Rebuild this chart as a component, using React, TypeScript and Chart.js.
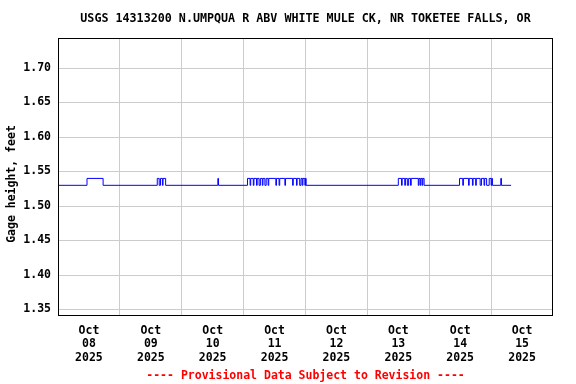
import { useEffect, useRef } from "react";
import { Chart, registerables } from "chart.js";

Chart.register(...registerables);

const TITLE = "USGS 14313200 N.UMPQUA R ABV WHITE MULE CK, NR TOKETEE FALLS, OR";
const Y_LABEL = "Gage height, feet";
const FOOTER = "---- Provisional Data Subject to Revision ----";

// Day labels, centered on each day (noon)
const DAY_LABELS = [
  ["Oct", "08", "2025"],
  ["Oct", "09", "2025"],
  ["Oct", "10", "2025"],
  ["Oct", "11", "2025"],
  ["Oct", "12", "2025"],
  ["Oct", "13", "2025"],
  ["Oct", "14", "2025"],
  ["Oct", "15", "2025"],
];

const Y_TICKS = [1.35, 1.4, 1.45, 1.5, 1.55, 1.6, 1.65, 1.7];

// Step change points: hours after 2025-10-08 00:00, and the gage height from that time on
const HOURS = [
  0,
  11.25, 17.5,
  38.5, 39.25, 39.75, 40.5, 40.75, 41.75,
  62.0, 62.25,
  73.5, 74.5, 74.75, 75.75, 76.0, 77.0, 77.25, 78.0, 78.5, 79.25, 79.5, 80.25, 80.75,
  81.5, 81.75, 84.5, 84.75, 85.75, 86.0, 88.0, 88.25, 91.0, 91.25, 92.5, 92.75,
  93.75, 94.25, 94.75, 95.0, 95.75, 96.0, 96.25,
  132.0, 133.25, 133.5, 134.5, 134.75, 135.5, 136.0, 136.75, 137.0,
  139.75, 140.0, 140.5, 140.75, 141.25, 141.5, 142.0,
  155.75, 157.0, 157.25, 159.25, 159.5, 160.75, 161.0, 162.0, 162.25,
  163.75, 164.25, 165.25, 165.5, 166.25, 167.25, 168.0, 168.25, 168.5,
  171.75, 172.0,
  175.75,
];
const GAGE = [
  1.53,
  1.54, 1.53,
  1.54, 1.53, 1.54, 1.53, 1.54, 1.53,
  1.54, 1.53,
  1.54, 1.53, 1.54, 1.53, 1.54, 1.53, 1.54, 1.53, 1.54, 1.53, 1.54, 1.53, 1.54,
  1.53, 1.54, 1.53, 1.54, 1.53, 1.54, 1.53, 1.54, 1.53, 1.54, 1.53, 1.54,
  1.53, 1.54, 1.53, 1.54, 1.53, 1.54, 1.53,
  1.54, 1.53, 1.54, 1.53, 1.54, 1.53, 1.54, 1.53, 1.54,
  1.53, 1.54, 1.53, 1.54, 1.53, 1.54, 1.53,
  1.54, 1.53, 1.54, 1.53, 1.54, 1.53, 1.54, 1.53, 1.54,
  1.53, 1.54, 1.53, 1.54, 1.53, 1.54, 1.53, 1.54, 1.53,
  1.54, 1.53,
  1.53,
];

const FONT = "'DejaVu Sans Mono', 'Liberation Mono', monospace";

export default function App() {
  const ref = useRef<HTMLCanvasElement | null>(null);

  useEffect(() => {
    if (!ref.current) return;
    const points = HOURS.map((h, i) => ({ x: h, y: GAGE[i] }));

    const framePlugin = {
      id: "frameAndTitle",
      afterDatasetsDraw(chart: any) {
        const { ctx, chartArea: a } = chart;
        ctx.save();
        ctx.strokeStyle = "#000000";
        ctx.lineWidth = 1;
        ctx.strokeRect(a.left + 0.5, a.top + 0.5, a.right - a.left - 1, a.bottom - a.top - 1);
        ctx.restore();
      },
      afterDraw(chart: any) {
        const { ctx, chartArea: a } = chart;
        ctx.save();
        ctx.fillStyle = "#000000";
        ctx.font = `bold 11.7px ${FONT}`;
        ctx.textAlign = "center";
        ctx.textBaseline = "middle";
        ctx.fillText(TITLE, (a.left + a.right) / 2, 19);
        ctx.font = `bold 11.5px ${FONT}`;
        ctx.translate(12, 184);
        ctx.rotate(-Math.PI / 2);
        ctx.fillText(Y_LABEL, 0, 0);
        ctx.restore();
      },
    };

    const chart = new Chart(ref.current, {
      type: "line",
      data: {
        datasets: [
          {
            data: points,
            borderColor: "#0000ff",
            borderWidth: 1,
            pointRadius: 0,
            stepped: true,
            fill: false,
          },
        ],
      },
      options: {
        animation: false,
        responsive: true,
        maintainAspectRatio: false,
        layout: { padding: { top: 38, right: 23, left: 0, bottom: 0 } },
        plugins: {
          legend: { display: false },
          tooltip: { enabled: false },
          title: { display: false },
        },
        scales: {
          x: {
            type: "linear",
            min: 0,
            max: 192,
            afterBuildTicks: (scale: any) => {
              const t = [];
              for (let h = 12; h <= 180; h += 12) t.push({ value: h });
              scale.ticks = t;
            },
            afterFit: (scale: any) => {
              scale.height = 68;
            },
            grid: {
              drawTicks: false,
              color: (c: any) =>
                c.tick && c.tick.value % 24 === 0 ? "#cccccc" : "rgba(0,0,0,0)",
              lineWidth: 1,
            },
            border: { display: false },
            ticks: {
              autoSkip: false,
              maxRotation: 0,
              padding: 8,
              color: "#000000",
              font: { family: FONT, weight: "bold", size: 11.5, lineHeight: 1.17 },
              callback: (v: any) => {
                const n = Number(v);
                if (n % 24 !== 12) return "";
                return DAY_LABELS[(n - 12) / 24];
              },
            },
            title: {
              display: true,
              text: FOOTER,
              color: "#ff0000",
              font: { family: FONT, weight: "bold", size: 11.5 },
              padding: { top: 0, bottom: 1 },
            },
          },
          y: {
            min: 1.3406,
            max: 1.7435,
            afterBuildTicks: (scale: any) => {
              scale.ticks = Y_TICKS.map((v) => ({ value: v }));
            },
            afterFit: (scale: any) => {
              scale.width = 58;
            },
            grid: { drawTicks: false, color: "#cccccc", lineWidth: 1 },
            border: { display: false },
            ticks: {
              padding: 7,
              color: "#000000",
              font: { family: FONT, weight: "bold", size: 11.5 },
              callback: (v: any) => Number(v).toFixed(2),
            },
            title: { display: false },
          },
        },
      },
      plugins: [framePlugin],
    });

    return () => chart.destroy();
  }, []);

  return (
    <div style={{ position: "fixed", left: 0, top: 0, width: 576, height: 384, background: "#ffffff" }}>
      <canvas ref={ref} style={{ display: "block" }} />
    </div>
  );
}
